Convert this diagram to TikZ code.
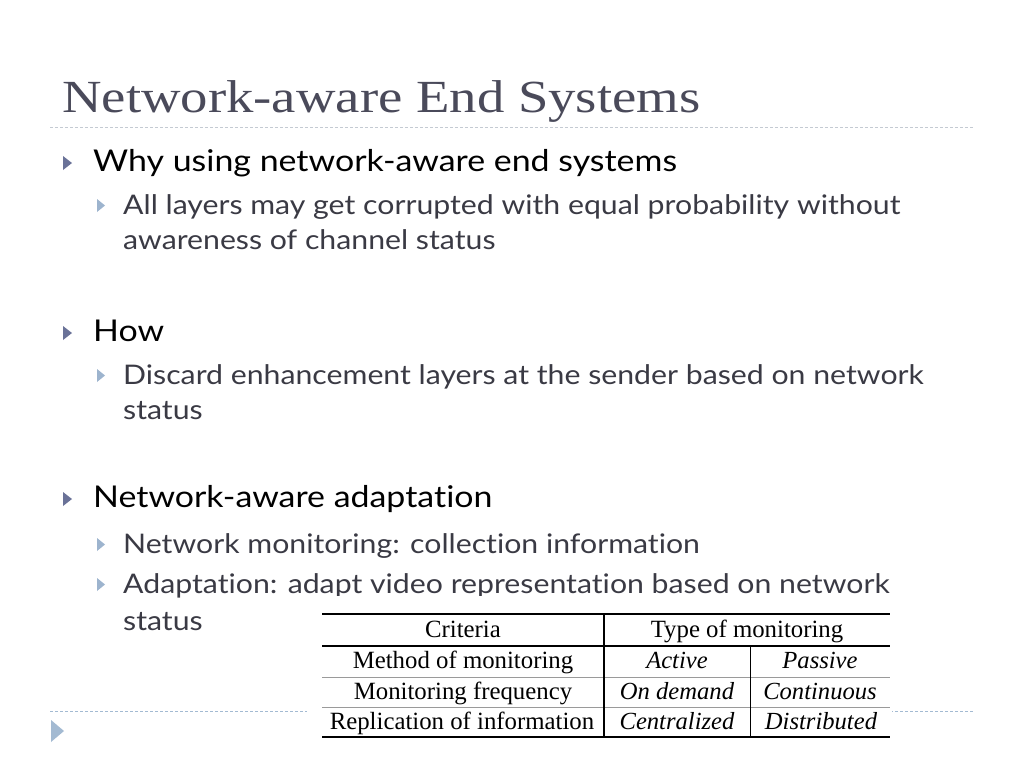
\documentclass[tikz,border=0pt]{standalone}
\usepackage{fontspec}
\setmainfont{Lato}
\newfontfamily\titlefont[FakeStretch=1.19]{Liberation Serif}
\newfontfamily\tabfont{Liberation Serif}
\newfontfamily\bodyfont[FakeStretch=1.13, Ligatures=NoCommon]{Lato}
\newfontfamily\subfont[FakeStretch=1.12, Ligatures=NoCommon]{Lato}
\definecolor{titlegray}{HTML}{4A4A5A}
\definecolor{subgray}{HTML}{3A3A44}
\definecolor{bulletA}{HTML}{6A7298}
\definecolor{bulletB}{HTML}{9DB4CE}
\definecolor{bulletC}{HTML}{A3BAD2}
\definecolor{rulegray}{HTML}{C4CAD2}
\definecolor{thingray}{HTML}{9A9A9A}
\tikzset{
  titletext/.style={anchor=base west, inner sep=0, font=\titlefont\fontsize{46}{52}\selectfont, text=titlegray},
  lonetext/.style={anchor=base west, inner sep=0, font=\bodyfont\fontsize{30}{36}\selectfont, text=black},
  ltwotext/.style={anchor=base west, inner sep=0, font=\subfont\fontsize{27}{32}\selectfont, text=subgray},
  tabtext/.style={anchor=base, inner sep=0, font=\tabfont\fontsize{24.8}{28}\selectfont, text=black},
  tabital/.style={tabtext, font=\tabfont\itshape\fontsize{24.6}{28}\selectfont},
  sepline/.style={draw=rulegray, line width=1pt, dash pattern=on 3pt off 2pt},
  thickrule/.style={draw=black, line width=2.2pt},
  thinrule/.style={draw=thingray, line width=0.9pt},
}
\newcommand{\bulone}[2]{\fill[bulletA] (63,#2-15) -- (72,#2-8) -- (63,#2-1) -- cycle;}
\newcommand{\bultwo}[2]{\fill[bulletB] (97,#2-15) -- (105,#2-8.5) -- (97,#2-2) -- cycle;}
\begin{document}
\begin{tikzpicture}[x=1pt,y=-1pt]
\useasboundingbox (0,0) rectangle (1024,768);
\fill[white] (0,0) rectangle (1024,768);

% title
\node[titletext] (title) at (62,112) {Network-aware End Systems};
\coordinate (tl) at (50,127);
\coordinate (tr) at (973,127);
\draw[sepline] (tl) -- (tr);

% bullets
\bulone{}{171}
\node[lonetext] (why) at (93,171) {Why using network-aware end systems};
\bultwo{}{214}
\node[ltwotext] (all) at (123,214) {All layers may get corrupted with equal probability without};
\node[ltwotext] (aware) at (123,249) {awareness of channel status};

\bulone{}{341}
\node[lonetext] (how) at (93,341) {How};
\bultwo{}{384}
\node[ltwotext] (discard) at (123,384) {Discard enhancement layers at the sender based on network};
\node[ltwotext] (status1) at (123,419) {status};

\bulone{}{507}
\node[lonetext] (adapt) at (93,507) {Network-aware adaptation};
\bultwo{}{553}
\node[ltwotext] (monitor) at (123,553) {Network monitoring: collection information};
\bultwo{}{593}
\node[ltwotext] (adaptation) at (123,593) {Adaptation: adapt video representation based on network};
\node[ltwotext] (status2) at (123,630) {status};

% bottom separator and icon
\coordinate (bl) at (50,711);
\coordinate (br) at (973,711);
\draw[sepline, draw=bulletC] (bl) -- (br);
\fill[bulletC] (51,720) -- (64,731) -- (51,742) -- cycle;

% table image background
\fill[white] (307,596) rectangle (892,746);

% table
\draw[thickrule] (322,614) -- (890,614);
\draw[thickrule] (322,646) -- (890,646);
\draw[thinrule] (322,677) -- (890,677);
\draw[thinrule] (322,707) -- (890,707);
\draw[thickrule] (322,737) -- (890,737);
\draw[draw=black, line width=2.4pt] (604,614) -- (604,738);
\draw[draw=black, line width=1pt] (750,646) -- (750,737);

\node[tabtext] (crit) at (463,637) {Criteria};
\node[tabtext] (type) at (747,637) {Type of monitoring};
\node[tabtext] (meth) at (463,668) {Method of monitoring};
\node[tabital] (act) at (677,668) {Active};
\node[tabital] (pas) at (820,668) {Passive};
\node[tabtext] (freq) at (463,699) {Monitoring frequency};
\node[tabital] (ond) at (677,699) {On demand};
\node[tabital] (cont) at (820,699) {Continuous};
\node[tabtext] (repl) at (462,729) {Replication of information};
\node[tabital] (cent) at (677,729) {Centralized};
\node[tabital] (dist) at (821,729) {Distributed};
\end{tikzpicture}
\end{document}
